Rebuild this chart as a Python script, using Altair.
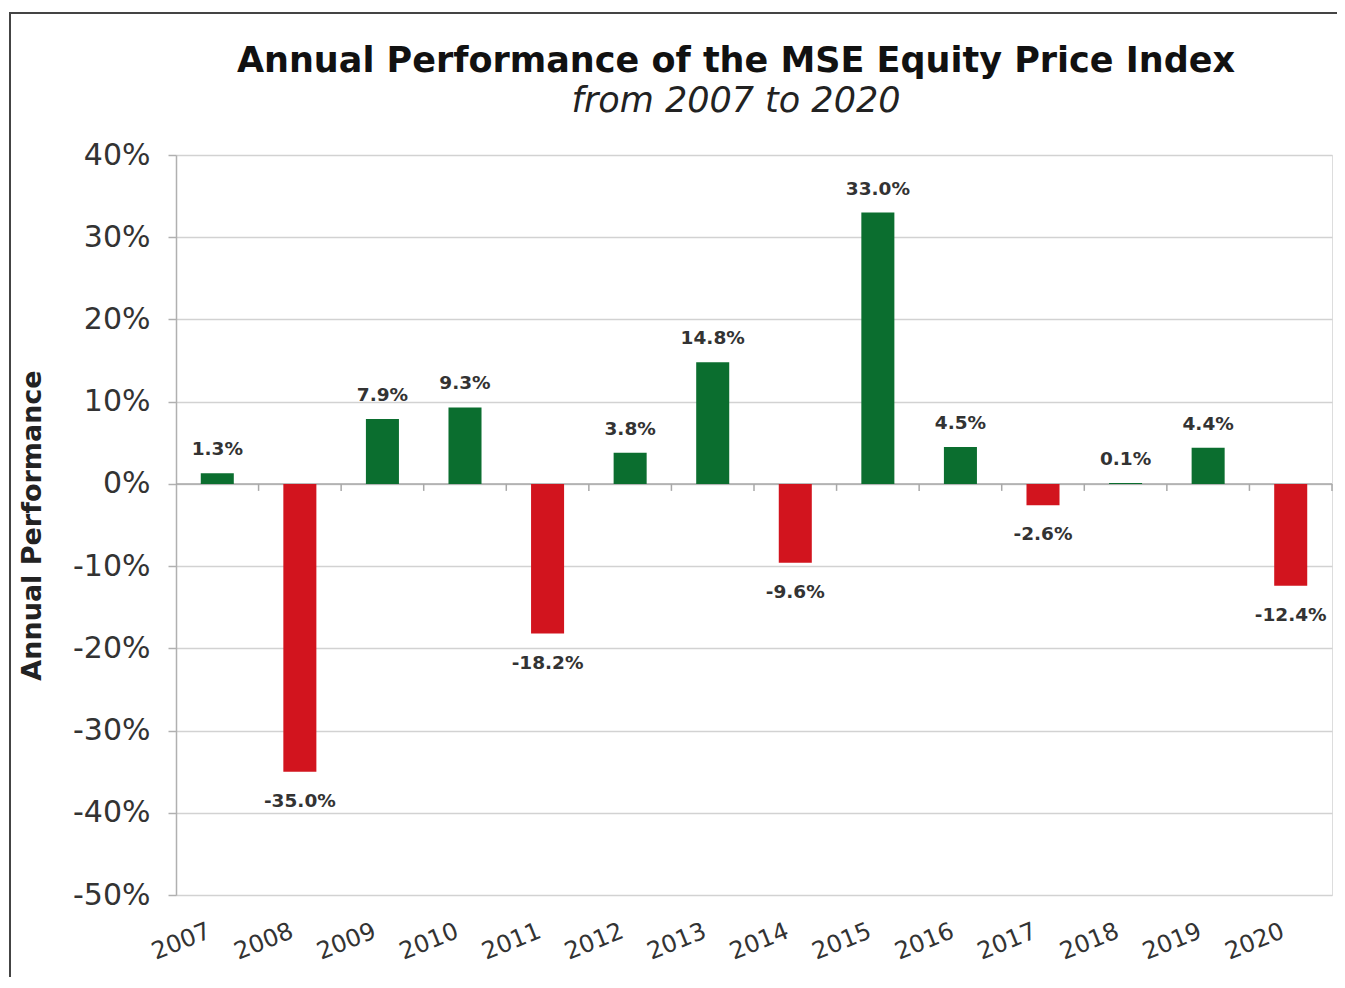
import altair as alt
import pandas as pd

TITLE = "Annual Performance of the MSE Equity Price Index"
SUBTITLE = "from 2007 to 2020"
years = ["2007", "2008", "2009", "2010", "2011", "2012", "2013",
         "2014", "2015", "2016", "2017", "2018", "2019", "2020"]
values = [1.3, -35.0, 7.9, 9.3, -18.2, 3.8, 14.8, -9.6, 33.0, 4.5, -2.6, 0.1, 4.4, -12.4]
labels = ["1.3%", "-35.0%", "7.9%", "9.3%", "-18.2%", "3.8%", "14.8%",
          "-9.6%", "33.0%", "4.5%", "-2.6%", "0.1%", "4.4%", "-12.4%"]
y_ticks = [40, 30, 20, 10, 0, -10, -20, -30, -40, -50]

GREEN = "#0b6e2f"
RED = "#d2141e"
FONT = "DejaVu Sans"

df = pd.DataFrame({"year": years, "value": values, "label": labels})
df["sign"] = ["pos" if v >= 0 else "neg" for v in values]

W, H = 1156, 740

x_scale = alt.Scale(domain=years, paddingInner=0.6, paddingOuter=0.3)

base = alt.Chart(df)

bars = base.mark_bar().encode(
    x=alt.X("year:N", sort=years, scale=x_scale,
            axis=alt.Axis(title=None, labelAngle=-22, labelAlign="right",
                          labelBaseline="top", labelPadding=24, labelOffset=-12,
                          labelFontSize=24, labelColor="#333", labelFont=FONT,
                          domain=False, ticks=False, grid=False)),
    y=alt.Y("value:Q", scale=alt.Scale(domain=[-50, 40], nice=False, zero=False),
            axis=alt.Axis(title="Annual Performance", values=y_ticks,
                          labelExpr="datum.value + '%'", labelFontSize=30,
                          labelColor="#333", labelFont=FONT, labelPadding=18,
                          tickSize=8, tickColor="#b0b0b0", domainColor="#b0b0b0",
                          domainWidth=1.5, tickWidth=1.5,
                          gridColor="#d2d2d2", gridWidth=1.5,
                          titleFontSize=27, titleFont=FONT, titleFontWeight="bold",
                          titleColor="#222", titlePadding=26)),
    color=alt.Color("sign:N", scale=alt.Scale(domain=["pos", "neg"], range=[GREEN, RED]),
                    legend=None),
)

zero = alt.Chart(pd.DataFrame({"v": [0]})).mark_rule(color="#a8a8a8", strokeWidth=1.5).encode(
    y=alt.Y("v:Q")
)

bounds = pd.DataFrame({"b": list(range(1, len(years) + 1)), "y0": [0] * len(years),
                       "y1": [-0.85] * len(years)})
ticks = alt.Chart(bounds).mark_rule(color="#a8a8a8", strokeWidth=1.5).encode(
    x=alt.X("b:Q", scale=alt.Scale(domain=[0, len(years)], nice=False, zero=True), axis=None),
    y=alt.Y("y0:Q"),
    y2="y1:Q",
)

text_common = dict(fontSize=18.5, fontWeight="bold", font=FONT, color="#333")
text_pos = base.transform_filter("datum.value >= 0").mark_text(
    baseline="bottom", dy=-14, **text_common
).encode(
    x=alt.X("year:N", sort=years, scale=x_scale, axis=None),
    y="value:Q",
    text="label:N",
)
text_neg = base.transform_filter("datum.value < 0").mark_text(
    baseline="top", dy=20, **text_common
).encode(
    x=alt.X("year:N", sort=years, scale=x_scale, axis=None),
    y="value:Q",
    text="label:N",
)

one = pd.DataFrame({"a": [0]})
frame = alt.Chart(one).mark_rect(fill=None, fillOpacity=0, stroke="#444", strokeWidth=2).encode(
    x=alt.value(-166), x2=alt.value(1400), y=alt.value(-142), y2=alt.value(1000)
)

title = alt.Chart(one).mark_text(
    text=TITLE, font=FONT, fontSize=35, fontWeight="bold", color="#111",
    align="center", baseline="alphabetic"
).encode(x=alt.value(560), y=alt.value(-83))

subtitle = alt.Chart(one).mark_text(
    text=SUBTITLE, font=FONT, fontSize=35, fontStyle="italic", color="#222",
    align="center", baseline="alphabetic"
).encode(x=alt.value(560), y=alt.value(-43))

chart = alt.layer(
    zero, bars, ticks, text_pos, text_neg, frame, title, subtitle
).resolve_scale(x="independent").properties(
    width=W, height=H,
    autosize=alt.AutoSizeParams(type="none"),
    padding={"left": 168, "top": 147, "right": 5, "bottom": 82},
).configure_view(stroke=None).configure(background="white")

chart.save("out.html", embed_options={"renderer": "svg", "actions": False})
